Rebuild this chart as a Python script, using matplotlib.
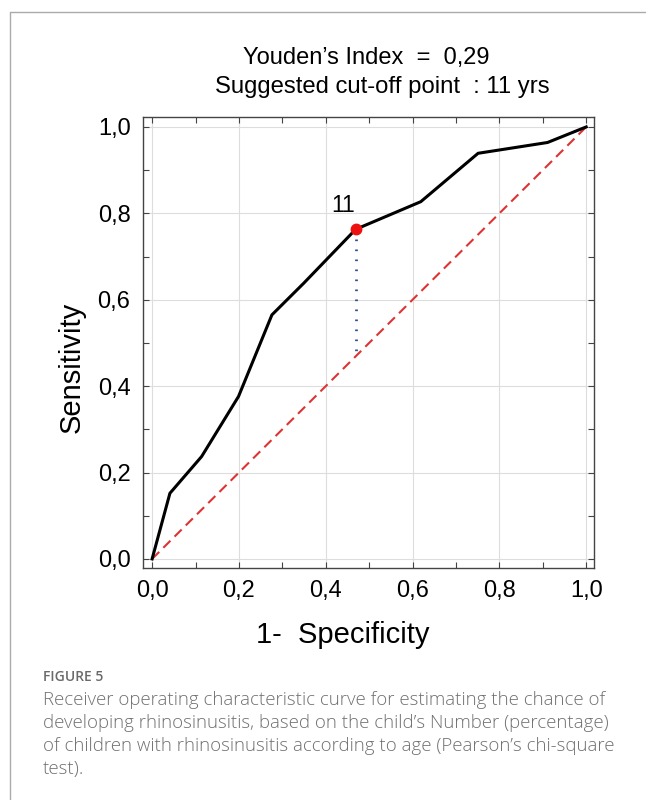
import matplotlib
matplotlib.use("Agg")
import matplotlib.pyplot as plt
from matplotlib.lines import Line2D
from matplotlib.ticker import MultipleLocator

# ROC curve points
fpr = [0.0, 0.041, 0.114, 0.199, 0.276, 0.349, 0.469, 0.619, 0.751, 0.911, 1.0]
tpr = [0.0, 0.152, 0.237, 0.376, 0.565, 0.638, 0.763, 0.827, 0.939, 0.964, 1.0]

# suggested cut-off (age 11)
cut_label = "11"
cut_fpr = 0.469
cut_tpr = 0.763

tick_values = [0.0, 0.2, 0.4, 0.6, 0.8, 1.0]
tick_labels = ["0,0", "0,2", "0,4", "0,6", "0,8", "1,0"]

title_lines = ["Youden\u2019s Index  =  0,29", "Suggested cut-off point  : 11 yrs"]
caption_head = "FIGURE 5"
caption_lines = [
    "Receiver operating characteristic curve for estimating the chance of",
    "developing rhinosinusitis, based on the child\u2019s Number (percentage)",
    "of children with rhinosinusitis according to age (Pearson\u2019s chi-square",
    "test).",
]

plt.rcParams["font.family"] = ["Liberation Sans", "DejaVu Sans"]

fig = plt.figure(figsize=(6.46, 8), dpi=100)
ax = fig.add_axes([143 / 646, 1 - 568 / 800, 451 / 646, 451 / 800])

ax.plot([0, 1], [0, 1], color="#dd3333", lw=1.5, dashes=(4.8, 2.8), zorder=2)
ax.plot([cut_fpr, cut_fpr], [cut_tpr, cut_fpr], color="#2f4f8f", lw=2.0,
        linestyle=(0, (0.6, 3.0)), zorder=2)
ax.plot(fpr, tpr, color="black", lw=2.2, zorder=3)
ax.plot([cut_fpr], [cut_tpr], "o", color="#ee1111", ms=7.5, zorder=4)
ax.annotate(cut_label, (cut_fpr, cut_tpr), xytext=(-9, 17), textcoords="offset points",
            ha="center", va="center", fontsize=16.5)

ax.set_xlim(-0.021, 1.018)
ax.set_ylim(-0.021, 1.023)
ax.xaxis.set_minor_locator(MultipleLocator(0.1))
ax.yaxis.set_minor_locator(MultipleLocator(0.1))
ax.set_xticks(tick_values)
ax.set_yticks(tick_values)
ax.set_xticklabels(tick_labels)
ax.set_yticklabels(tick_labels)
ax.tick_params(which="both", direction="in", top=True, right=True,
               color="#444444", width=0.8)
ax.tick_params(which="major", length=4, labelsize=17, pad=9)
ax.tick_params(which="minor", length=4)
ax.grid(True, which="major", color="#dddddd", lw=0.8)
ax.set_axisbelow(True)
for sp in ax.spines.values():
    sp.set_color("#444444")
    sp.set_linewidth(1.0)

ax.set_xlabel("1-  Specificity", fontsize=21)
ax.xaxis.set_label_coords(0.443, -0.117)
ax.set_ylabel("Sensitivity", fontsize=21)
ax.yaxis.set_label_coords(-0.127, 0.445)

# title lines
fig.text(366 / 646, 1 - 58 / 800, title_lines[0], ha="center", va="center", fontsize=17)
fig.text(382 / 646, 1 - 87 / 800, title_lines[1], ha="center", va="center", fontsize=17.2)

# card border (top and left edges)
fig.add_artist(Line2D([10 / 646, 10 / 646, 1], [0, 1 - 12 / 800, 1 - 12 / 800],
                      color="#aaaaaa", lw=1.0))

# caption
fig.text(43 / 646, 1 - 677 / 800, caption_head, fontsize=10, color="#6a6a6a",
         family=["Open Sans", "DejaVu Sans"], fontweight="semibold", va="center")
for i, line in enumerate(caption_lines):
    fig.text(43 / 646, 1 - (700 + 23 * i) / 800, line, fontsize=13.4, color="#707070",
             family=["Open Sans", "DejaVu Sans"], fontweight="light", va="center")

fig.savefig("out.png", dpi=100)
